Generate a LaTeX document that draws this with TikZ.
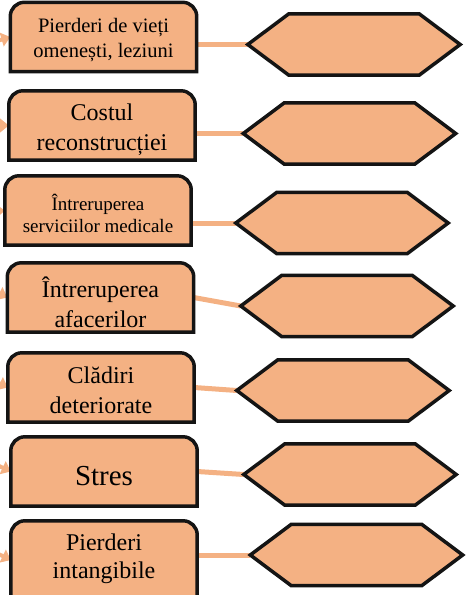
\documentclass[tikz,border=0pt]{standalone}
\usepackage{fontspec}
\setmainfont{Liberation Serif}
\usetikzlibrary{arrows.meta,backgrounds}
\definecolor{peach}{HTML}{F4B183}
\definecolor{edge}{HTML}{141414}

\begin{document}
\begin{tikzpicture}[x=1pt,y=-1pt,
		costbox/.style={inner sep=0pt,minimum width=186pt,minimum height=69pt},
		costtext/.style={align=center,inner sep=0pt},
		hexbox/.style={inner sep=0pt,minimum width=212pt,minimum height=61pt},
		outline/.style={fill=peach,draw=edge,line width=3.5pt},
		link/.style={draw=peach,line width=5pt},
		feed/.style={draw=peach,line width=4pt,-{Triangle[length=9pt,width=14pt]}}]
		\path[use as bounding box,clip] (0,0) rectangle (471,595);

		% consequence boxes
		\node[costbox] (b1) at (103.5,37) {};
		\node[costbox] (b2) at (102,125.5) {};
		\node[costbox] (b3) at (98,210.5) {};
		\node[costbox] (b4) at (100.5,297.5) {};
		\node[costbox] (b5) at (101,387.5) {};
		\node[costbox] (b6) at (104,471.5) {};
		\node[costbox,minimum height=78pt] (b7) at (104,560) {};

		\node[costtext,font=\fontsize{20.5}{25}\selectfont] (t1) at ([yshift=-3pt]b1.center) {Pierderi de vieți\\omenești, leziuni};
		\node[costtext,font=\fontsize{24}{30}\selectfont] (t2) at ([yshift=-4pt]b2.center) {Costul\\reconstrucției};
		\node[costtext,font=\fontsize{19}{22}\selectfont] (t3) at ([yshift=-3pt]b3.center) {Întreruperea\\serviciilor medicale};
		\node[costtext,font=\fontsize{24}{30}\selectfont] (t4) at ([yshift=-5pt]b4.center) {Întreruperea\\afacerilor};
		\node[costtext,font=\fontsize{24}{30}\selectfont] (t5) at ([yshift=-3pt]b5.center) {Clădiri\\deteriorate};
		\node[costtext,font=\fontsize{29}{34}\selectfont] (t6) at ([yshift=-5pt]b6.center) {Stres};
		\node[costtext,font=\fontsize{24}{28}\selectfont] (t7) at ([yshift=1pt]b7.center) {Pierderi\\intangibile};

		% empty hexagons
		\node[hexbox] (h1) at (354,44.5) {};
		\node[hexbox] (h2) at (349.5,133.5) {};
		\node[hexbox] (h3) at (342,223) {};
		\node[hexbox] (h4) at (347,306) {};
		\node[hexbox] (h5) at (343,390.5) {};
		\node[hexbox] (h6) at (350,474.5) {};
		\node[hexbox] (h7) at (356.5,555) {};

		% arrows coming in from the left
		\coordinate (f1) at (-20,46);
		\coordinate (f2) at (-20,125.5);
		\coordinate (f3) at (-20,212);
		\coordinate (f4) at (-20,284);
		\coordinate (f5) at (-20,374);
		\coordinate (f6) at (-20,457);
		\coordinate (f7) at (-20,545);

		\begin{scope}[on background layer]
			\foreach \i in {1,...,7}
				\draw[feed] (f\i) -- (b\i.west);
			\foreach \i in {1,2,3,7}
				\draw[link] (h\i.west) -- (h\i.west -| b\i.east);
			\foreach \i in {4,5,6}
				\draw[link] (b\i.east) -- (h\i.west);
			%\draw[link] (b1.east) -- (h1.west);

			\foreach \i in {1,...,7}{
				\draw[outline] (b\i.south west) -- ([yshift=-14pt]b\i.north west)
					arc[start angle=180,end angle=90,radius=14pt]
					-- ([xshift=-14pt]b\i.north east)
					arc[start angle=90,end angle=0,radius=14pt]
					-- (b\i.south east) -- cycle;
				\draw[outline] (h\i.west) -- ([xshift=41pt]h\i.north west)
					-- ([xshift=-41pt]h\i.north east) -- (h\i.east)
					-- ([xshift=-41pt]h\i.south east) -- ([xshift=41pt]h\i.south west) -- cycle;
			}
		\end{scope}

	\end{tikzpicture}
\end{document}
